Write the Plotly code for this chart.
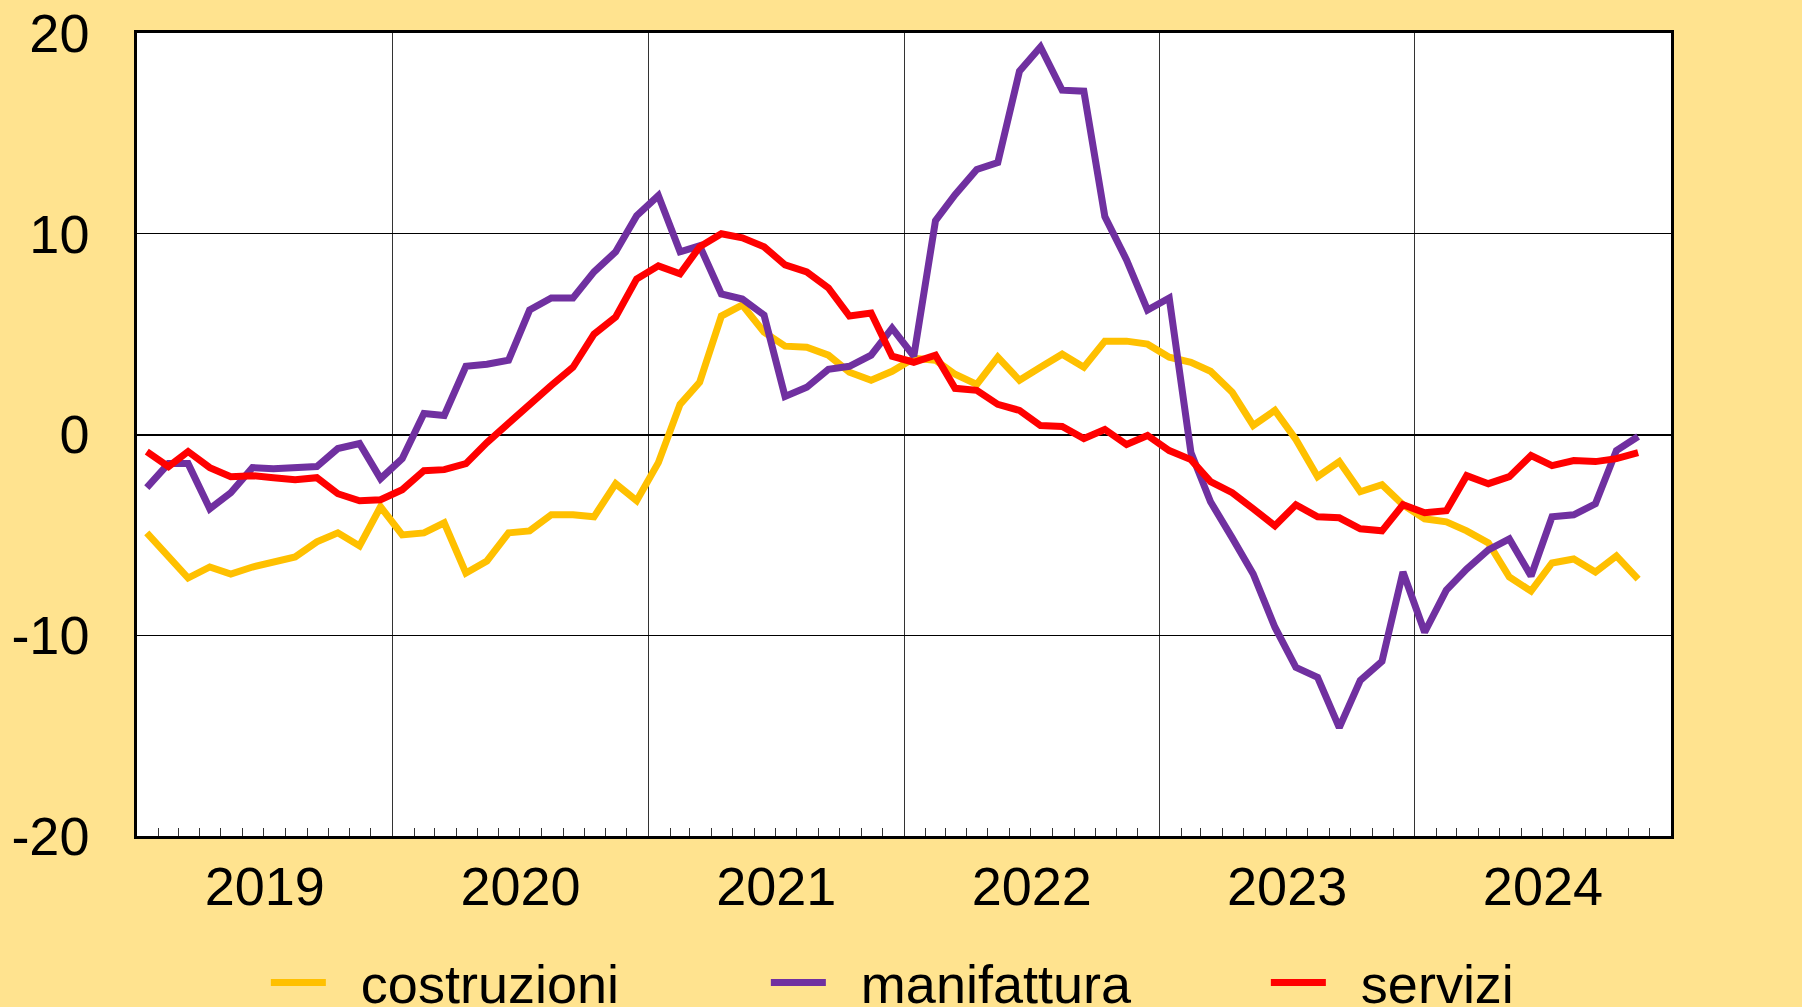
import pandas as pd
import plotly.graph_objects as go

# ---- data (monthly, Jan 2019 - Nov 2024) ----
start_month = "2019-01-01"
end_month = "2024-11-01"

costruzioni = [-4.9, -6.05, -7.15, -6.6, -6.95, -6.6, -6.35, -6.1, -5.35, -4.9, -5.55, -3.6,
               -5.0, -4.9, -4.4, -6.9, -6.3, -4.9, -4.8, -4.0, -4.0, -4.1, -2.45, -3.3,
               -1.4, 1.5, 2.6, 5.9, 6.45, 5.1, 4.4, 4.35, 3.95, 3.1, 2.7, 3.15,
               3.8, 3.7, 3.0, 2.5, 3.85, 2.7, 3.35, 4.0, 3.35, 4.65, 4.65, 4.5,
               3.85, 3.6, 3.15, 2.1, 0.45, 1.2, -0.25, -2.1, -1.35, -2.85, -2.5, -3.5,
               -4.2, -4.35, -4.8, -5.4, -7.1, -7.8, -6.4, -6.2, -6.85, -6.05, -7.2]

manifattura = [-2.65, -1.45, -1.45, -3.7, -2.9, -1.65, -1.7, -1.65, -1.6, -0.7, -0.45, -2.2,
               -1.2, 1.05, 0.95, 3.4, 3.5, 3.7, 6.2, 6.8, 6.8, 8.1, 9.1, 10.9,
               11.9, 9.1, 9.4, 7.0, 6.75, 5.95, 1.9, 2.35, 3.25, 3.4, 3.95, 5.3,
               3.9, 10.65, 11.95, 13.2, 13.55, 18.1, 19.3, 17.15, 17.1, 10.85, 8.7, 6.2,
               6.8, -0.9, -3.35, -5.15, -6.95, -9.6, -11.6, -12.1, -14.6, -12.25, -11.3, -6.85,
               -9.85, -7.75, -6.7, -5.75, -5.2, -7.05, -4.1, -4.0, -3.45, -0.8, -0.1]

servizi = [-0.85, -1.6, -0.85, -1.65, -2.1, -2.05, -2.15, -2.25, -2.15, -2.95, -3.3, -3.25,
           -2.75, -1.8, -1.75, -1.45, -0.4, 0.6, 1.45, 2.45, 3.35, 5.0, 5.85, 7.75,
           8.4, 8.0, 9.35, 10.0, 9.8, 9.35, 8.45, 8.1, 7.3, 5.9, 6.05, 3.9,
           3.6, 3.95, 2.3, 2.2, 1.5, 1.2, 0.45, 0.4, -0.2, 0.25, -0.5, -0.05,
           -0.8, -1.25, -2.35, -2.9, -3.7, -4.55, -3.5, -4.1, -4.15, -4.7, -4.8, -3.5,
           -3.9, -3.8, -2.05, -2.45, -2.1, -1.05, -1.55, -1.3, -1.35, -1.2, -0.9]

series_names = ["costruzioni", "manifattura", "servizi"]
series_colors = ["#FFC000", "#7030A0", "#FF0000"]

y_ticks = [-20, -10, 0, 10, 20]
y_ticktext = ["-20", "-10", "0", "10", "20"]
x_range = ["2019-01-01", "2025-01-01"]
mid_year_ticks = ["2019-07-01", "2020-07-01", "2021-07-01", "2022-07-01", "2023-07-01", "2024-07-01"]

months = pd.date_range(start_month, end_month, freq="MS") + pd.Timedelta(days=14)

BG = "#FFE38F"
FONT = "Liberation Sans, Arial, sans-serif"
FS = 54

fig = go.Figure()
for name, vals, col in zip(series_names, [costruzioni, manifattura, servizi], series_colors):
    fig.add_trace(go.Scatter(x=months, y=vals, mode="lines", name="\u00a0\u00a0" + name,
                             line=dict(color=col, width=7)))

fig.update_layout(
    width=1802, height=1007,
    paper_bgcolor=BG, plot_bgcolor="white",
    margin=dict(l=137, r=131, t=33, b=171, pad=0, autoexpand=False),
    font=dict(family=FONT, size=FS, color="black"),
    showlegend=True,
    legend=dict(orientation="h", x=0.084, xanchor="left",
                yref="container", y=0.024, yanchor="middle",
                bgcolor="rgba(0,0,0,0)", font=dict(size=FS, family=FONT),
                itemwidth=55, entrywidth=430, entrywidthmode="pixels", traceorder="normal"),
    xaxis=dict(type="date", range=x_range, dtick="M12", tick0="2019-01-01",
               tickformat="%Y", ticklabelmode="period", ticks="",
               showgrid=True, gridcolor="#333333", gridwidth=1.2,
               showline=True, linecolor="black", linewidth=2.5, mirror=True,
               ticklabelstandoff=1, automargin=False,
               minor=dict(dtick="M1", tick0="2019-01-01", ticks="inside", ticklen=8,
                          tickcolor="#333333", tickwidth=1, showgrid=False)),
    xaxis2=dict(type="date", range=x_range, overlaying="x", anchor="y", side="bottom",
                tickmode="array", tickvals=mid_year_ticks, ticks="inside", ticklen=16,
                tickcolor="#333333", tickwidth=1, showticklabels=False,
                showgrid=False, showline=False, zeroline=False, automargin=False),
    yaxis=dict(range=[-20, 20], tickmode="array", tickvals=y_ticks, ticktext=y_ticktext,
               ticks="", showgrid=True, gridcolor="black", gridwidth=1,
               zeroline=True, zerolinecolor="black", zerolinewidth=1.5,
               showline=True, linecolor="black", linewidth=2.5, mirror=True,
               ticklabelstandoff=34, automargin=False),
    yaxis2=dict(range=[-20, 20], overlaying="y", side="right", anchor="x",
                tickmode="array", tickvals=y_ticks, ticktext=y_ticktext, ticks="",
                showgrid=False, zeroline=False, showline=False,
                ticklabelstandoff=48, automargin=False),
)

fig.write_html("out.html", config={"displayModeBar": False},
               post_script="document.body.style.margin='0';document.body.style.overflow='hidden';")
